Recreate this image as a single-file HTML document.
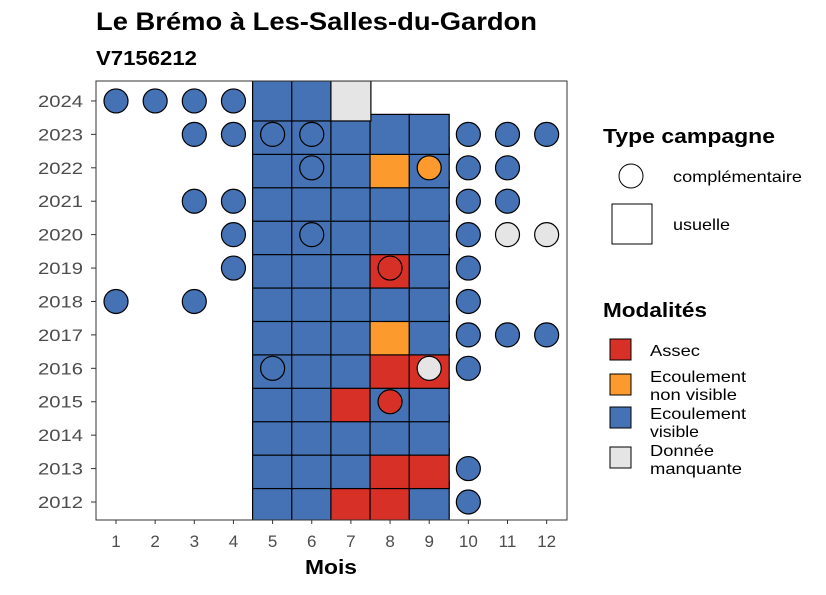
<!DOCTYPE html>
<html><head><meta charset="utf-8"><style>
body{margin:0;background:#fff;font-family:"Liberation Sans",Arial,sans-serif}
svg text{font-family:"Liberation Sans",Arial,sans-serif}
</style></head><body>
<svg id="c" width="826" height="590" xmlns="http://www.w3.org/2000/svg">
<text x="96" y="30" font-size="25" font-weight="bold" textLength="441" lengthAdjust="spacingAndGlyphs">Le Brémo à Les-Salles-du-Gardon</text>
<text x="96" y="65" font-size="20" font-weight="bold" textLength="101" lengthAdjust="spacingAndGlyphs">V7156212</text>
<defs><clipPath id="pc"><rect x="96" y="81" width="471" height="439"/></clipPath></defs>
<g id="tiles" clip-path="url(#pc)"></g>
<g id="circles" clip-path="url(#pc)"></g>
<rect x="96" y="81" width="471" height="439" fill="none" stroke="#333" stroke-width="1"/>
<g id="axes"></g>
<text x="305" y="574" font-size="20" font-weight="bold" textLength="52" lengthAdjust="spacingAndGlyphs">Mois</text>
<g>
<text x="603" y="143" font-size="20" font-weight="bold" textLength="172" lengthAdjust="spacingAndGlyphs">Type campagne</text>
<circle cx="631" cy="176" r="12" fill="#fff" stroke="#000"/>
<text x="673" y="182" font-size="16" textLength="129" lengthAdjust="spacingAndGlyphs">complémentaire</text>
<rect x="612" y="204" width="40" height="40" fill="#fff" stroke="#000"/>
<text x="673" y="230" font-size="16" textLength="57" lengthAdjust="spacingAndGlyphs">usuelle</text>
</g>
<g>
<text x="603" y="317" font-size="20" font-weight="bold" textLength="104" lengthAdjust="spacingAndGlyphs">Modalités</text>
<rect x="610" y="339" width="21" height="21" fill="#d73027" stroke="#000"/>
<text x="650" y="356" font-size="16" textLength="50" lengthAdjust="spacingAndGlyphs">Assec</text>
<rect x="610" y="374" width="21" height="21" fill="#fd9a2e" stroke="#000"/>
<text font-size="16"><tspan x="650" y="382" textLength="96" lengthAdjust="spacingAndGlyphs">Ecoulement</tspan><tspan x="650" y="400" textLength="87" lengthAdjust="spacingAndGlyphs">non visible</tspan></text>
<rect x="610" y="407" width="21" height="21" fill="#4472b4" stroke="#000"/>
<text font-size="16"><tspan x="650" y="419" textLength="96" lengthAdjust="spacingAndGlyphs">Ecoulement</tspan><tspan x="650" y="437" textLength="49" lengthAdjust="spacingAndGlyphs">visible</tspan></text>
<rect x="610" y="447" width="21" height="21" fill="#e5e5e5" stroke="#000"/>
<text font-size="16"><tspan x="650" y="456" textLength="64" lengthAdjust="spacingAndGlyphs">Donnée</tspan><tspan x="650" y="474" textLength="92" lengthAdjust="spacingAndGlyphs">manquante</tspan></text>
</g>
</svg>
<script>
const months=[1,2,3,4,5,6,7,8,9,10,11,12];
const years=[2012,2013,2014,2015,2016,2017,2018,2019,2020,2021,2022,2023,2024];
// usuelle tiles: A=assec, N=non visible, V=visible, M=manquante
const tileYears=[2012,2012,2012,2012,2012,2013,2013,2013,2013,2013,2014,2014,2014,2014,2014,2015,2015,2015,2015,2015,2016,2016,2016,2016,2016,2017,2017,2017,2017,2017,2018,2018,2018,2018,2018,2019,2019,2019,2019,2019,2020,2020,2020,2020,2020,2021,2021,2021,2021,2021,2022,2022,2022,2022,2022,2023,2023,2023,2023,2023,2024,2024,2024];
const tileMonths=[5,6,7,8,9,5,6,7,8,9,5,6,7,8,9,5,6,7,8,9,5,6,7,8,9,5,6,7,8,9,5,6,7,8,9,5,6,7,8,9,5,6,7,8,9,5,6,7,8,9,5,6,7,8,9,5,6,7,8,9,5,6,7];
const tileCodes=["V","V","A","A","V","V","V","V","A","A","V","V","V","V","V","V","V","A","V","V","V","V","V","A","A","V","V","V","N","V","V","V","V","V","V","V","V","V","A","V","V","V","V","V","V","V","V","V","V","V","V","V","V","N","V","V","V","V","V","V","V","V","M"];
const circYears=[2024,2024,2024,2024,2023,2023,2023,2023,2023,2023,2023,2022,2022,2022,2022,2021,2021,2021,2021,2020,2020,2020,2020,2020,2019,2019,2019,2018,2018,2018,2017,2017,2017,2016,2016,2016,2015,2013,2012];
const circMonths=[1,2,3,4,3,4,5,6,10,11,12,6,9,10,11,3,4,10,11,4,6,10,11,12,4,8,10,1,3,10,10,11,12,5,9,10,8,10,10];
const circCodes=["V","V","V","V","V","V","V","V","V","V","V","V","N","V","V","V","V","V","V","V","V","V","M","M","V","A","V","V","V","V","V","V","V","V","M","V","A","V","V"];
const col={A:"#d73027",N:"#fd9a2e",V:"#4472b4",M:"#e5e5e5"};
const NS="http://www.w3.org/2000/svg";
const xs=m=>116+(m-1)*39.15;
const ys=y=>502-(y-2012)*33.42;
const tg=document.getElementById('tiles'),cg=document.getElementById('circles'),ag=document.getElementById('axes');
for(let i=0;i<tileYears.length;i++){
 const r=document.createElementNS(NS,'rect');
 r.setAttribute('x',xs(tileMonths[i])-20);r.setAttribute('y',ys(tileYears[i])-20);
 r.setAttribute('width',40);r.setAttribute('height',40);
 r.setAttribute('fill',col[tileCodes[i]]);r.setAttribute('stroke','#000');r.setAttribute('stroke-width','1.2');
 
 
 tg.appendChild(r);
}
for(let i=0;i<circYears.length;i++){
 const c=document.createElementNS(NS,'circle');
 c.setAttribute('cx',xs(circMonths[i]));c.setAttribute('cy',ys(circYears[i]));c.setAttribute('r',12);
 c.setAttribute('fill',col[circCodes[i]]);c.setAttribute('stroke','#000');c.setAttribute('stroke-width','1.2');
 
 
 cg.appendChild(c);
}
months.forEach(m=>{
 const l=document.createElementNS(NS,'line');
 l.setAttribute('x1',xs(m));l.setAttribute('x2',xs(m));l.setAttribute('y1',520);l.setAttribute('y2',524);l.setAttribute('stroke','#333');
 
 
 ag.appendChild(l);
 const t=document.createElementNS(NS,'text');
 t.setAttribute('x',xs(m));t.setAttribute('y',547);t.setAttribute('font-size','17');t.setAttribute('fill','#4d4d4d');t.setAttribute('text-anchor','middle');
 t.textContent=m;
 
 
 ag.appendChild(t);
});
years.forEach(y=>{
 const l=document.createElementNS(NS,'line');
 l.setAttribute('x1',91);l.setAttribute('x2',96);l.setAttribute('y1',ys(y));l.setAttribute('y2',ys(y));l.setAttribute('stroke','#333');
 
 
 ag.appendChild(l);
 const t=document.createElementNS(NS,'text');
 t.setAttribute('x',38);t.setAttribute('y',ys(y)+6);t.setAttribute('font-size','17');t.setAttribute('fill','#4d4d4d');
 t.setAttribute('textLength','45');t.setAttribute('lengthAdjust','spacingAndGlyphs');
 t.textContent=y;
 
 
 ag.appendChild(t);
});
</script>
</body></html>
